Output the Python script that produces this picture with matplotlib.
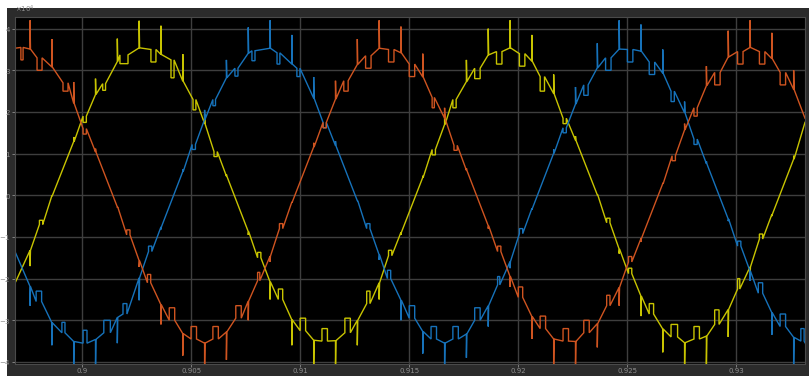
import matplotlib
matplotlib.use("Agg")
import matplotlib.pyplot as plt
import numpy as np
from matplotlib.patches import Rectangle
from matplotlib.ticker import ScalarFormatter

# ---- data (time in ms, phase voltage in units of 1e4) ----
# 1 kHz switching instants shared by the three phases
switch_t = [897.62, 898.62, 899.62, 900.62, 901.62, 902.62, 903.62, 904.62, 905.62,
            906.62, 907.62, 908.62, 909.62, 910.62, 911.62, 912.62, 913.62, 914.62,
            915.62, 916.62, 917.62, 918.62, 919.62, 920.62, 921.62, 922.62, 923.62,
            924.62, 925.62, 926.62, 927.62, 928.62, 929.62, 930.62, 931.62, 932.62]
t_first, t_last = 896.93, 933.14

# phase A (yellow)
yel_edge = (-2.11, 1.75)
yel_base = [-1.32, -0.01, 1.29, 2.42, 3.21, 3.54, 3.38, 2.74, 1.72, 0.46, -0.87, -2.08,
            -2.99, -3.48, -3.49, -3.00, -2.10, -0.89, 0.43, 1.70, 2.73, 3.37, 3.54, 3.22,
            2.44, 1.32, 0.01, -1.29, -2.42, -3.21, -3.54, -3.38, -2.74, -1.72, -0.46, 0.87]
yel_tip = [-1.70, -0.01, 1.40, 2.80, 3.76, 4.19, 4.07, 3.39, 1.95, 0.50, -0.95, -2.50,
           -3.60, -4.20, -4.20, -3.60, -2.50, -0.95, 0.47, 1.95, 3.25, 4.00, 4.20, 3.85,
           2.90, 1.42, 0.01, -1.40, -2.90, -3.77, -4.20, -4.10, -3.40, -1.95, -0.50, 0.95]
yel_notch = [(898.05, 898.20, -0.70, -0.60), (900.05, 900.20, 1.90, 1.75),
             (900.95, 901.08, 2.68, 2.52), (901.74, 902.11, 3.37, 3.16),
             (903.16, 903.39, 3.50, 3.20), (904.08, 904.22, 3.25, 2.82),
             (905.09, 905.22, 2.30, 2.05), (906.05, 906.20, 1.05, 0.93),
             (908.05, 908.20, -1.50, -1.37),
             (909.00, 909.20, -2.50, -2.25), (910.00, 910.25, -3.25, -2.95),
             (911.00, 911.25, -3.50, -3.20), (912.05, 912.30, -3.30, -2.95),
             (913.05, 913.20, -2.60, -2.30), (914.05, 914.20, -1.45, -1.32),
             (916.05, 916.20, 1.10, 0.97),
             (917.00, 917.15, 2.30, 2.10), (918.00, 918.25, 3.05, 2.80),
             (919.00, 919.25, 3.45, 3.15), (920.05, 920.30, 3.40, 3.10),
             (921.00, 921.20, 2.85, 2.50), (922.05, 922.20, 1.85, 1.72),
             (924.05, 924.20, -0.66, -0.55), (925.05, 925.20, -1.88, -1.75),
             (926.00, 926.20, -2.85, -2.60), (927.00, 927.30, -3.40, -3.10),
             (928.05, 928.30, -3.45, -3.15), (929.00, 929.20, -3.10, -2.75),
             (930.05, 930.15, -2.25, -2.00), (931.05, 931.20, -1.05, -0.93)]

# phase B (blue)
blu_edge = (-1.35, -3.54)
blu_base = [-2.19, -3.06, -3.51, -3.46, -2.93, -1.98, -0.76, 0.57, 1.82, 2.82, 3.41, 3.53,
            3.15, 2.33, 1.19, -0.13, -1.43, -2.52, -3.27, -3.55, -3.33, -2.65, -1.59, -0.32,
            1.01, 2.19, 3.06, 3.51, 3.46, 2.93, 1.98, 0.76, -0.57, -1.82, -2.82, -3.41]
blu_tip = [-2.65, -3.60, -4.20, -4.20, -3.55, -2.52, -0.82, 0.62, 2.05, 3.25, 4.03, 4.20,
           3.85, 2.84, 1.30, -0.14, -1.55, -3.00, -3.80, -4.20, -3.90, -3.15, -1.75, -0.35,
           1.10, 2.60, 3.65, 4.20, 4.10, 3.50, 2.25, 0.82, -0.62, -2.05, -3.35, -4.05]
blu_notch = [(897.90, 898.15, -2.55, -2.30), (899.08, 899.22, -3.30, -3.05),
             (900.05, 900.23, -3.55, -3.24), (901.00, 901.30, -3.30, -3.00),
             (901.88, 902.06, -2.85, -2.60), (903.05, 903.20, -1.35, -1.22),
             (905.05, 905.20, 1.22, 1.10), (906.00, 906.12, 2.30, 2.15),
             (907.01, 907.15, 3.05, 2.86), (907.79, 907.93, 3.47, 3.23),
             (908.94, 909.07, 3.42, 3.15), (909.85, 909.99, 3.05, 2.85),
             (911.05, 911.20, 1.75, 1.62), (913.05, 913.20, -0.80, -0.68),
             (914.00, 914.15, -2.00, -1.80), (915.00, 915.25, -2.95, -2.65),
             (916.00, 916.25, -3.45, -3.15), (917.00, 917.25, -3.45, -3.15),
             (918.00, 918.25, -3.00, -2.70), (919.05, 919.15, -2.15, -1.95),
             (920.05, 920.20, -0.92, -0.80), (922.05, 922.20, 1.62, 1.50),
             (923.00, 923.20, 2.65, 2.40), (924.00, 924.25, 3.30, 3.00),
             (925.00, 925.25, 3.50, 3.20), (926.00, 926.25, 3.20, 2.90),
             (927.00, 927.15, 2.50, 2.25), (928.05, 928.20, 1.35, 1.22),
             (930.05, 930.20, -1.22, -1.10),
             (931.00, 931.20, -2.35, -2.10), (932.00, 932.25, -3.15, -2.85),
             (932.95, 933.10, -3.50, -3.20)]

# phase C (orange)
red_edge = (3.53, 1.85)
red_base = [3.51, 3.08, 2.21, 1.04, -0.28, -1.57, -2.63, -3.32, -3.55, -3.28, -2.54, -1.46,
            -0.16, 1.16, 2.31, 3.14, 3.53, 3.42, 2.84, 1.85, 0.60, -0.73, -1.95, -2.91,
            -3.45, -3.51, -3.08, -2.21, -1.04, 0.28, 1.57, 2.63, 3.32, 3.55, 3.28, 2.54]
red_tip = [4.20, 3.75, 2.72, 1.12, -0.30, -1.72, -3.10, -3.85, -4.20, -3.95, -3.00, -1.60,
           -0.17, 1.26, 2.75, 3.75, 4.20, 4.05, 3.40, 2.10, 0.65, -0.80, -2.20, -3.45,
           -4.10, -4.20, -3.65, -2.65, -1.12, 0.30, 1.72, 3.10, 3.95, 4.20, 3.90, 3.00]
red_notch = [(897.20, 897.30, 3.55, 3.25), (897.94, 898.17, 3.30, 3.00),
             (899.13, 899.36, 2.70, 2.50), (900.05, 900.20, 1.60, 1.47),
             (902.05, 902.20, -0.95, -0.83),
             (903.00, 903.15, -2.10, -1.90), (904.00, 904.25, -3.00, -2.70),
             (905.00, 905.25, -3.45, -3.15), (906.00, 906.25, -3.45, -3.15),
             (907.05, 907.30, -2.95, -2.65), (908.05, 908.15, -2.05, -1.85),
             (909.05, 909.20, -0.80, -0.68), (911.05, 911.20, 1.75, 1.62),
             (912.00, 912.20, 2.75, 2.50), (913.00, 913.25, 3.35, 3.05),
             (914.05, 914.30, 3.50, 3.20), (915.00, 915.25, 3.15, 2.85),
             (916.05, 916.15, 2.35, 2.10), (917.05, 917.20, 1.20, 1.08),
             (919.05, 919.20, -1.35, -1.22),
             (920.00, 920.20, -2.45, -2.20), (921.00, 921.25, -3.20, -2.90),
             (922.05, 922.30, -3.50, -3.20), (923.00, 923.25, -3.30, -3.00),
             (924.05, 924.20, -2.65, -2.40), (925.05, 925.20, -1.60, -1.47),
             (927.05, 927.20, 0.95, 0.83),
             (928.05, 928.20, 2.10, 1.90), (929.00, 929.25, 2.95, 2.65),
             (930.05, 930.30, 3.45, 3.15), (931.05, 931.30, 3.45, 3.15),
             (932.00, 932.25, 2.95, 2.65)]

x_ticks = [0.9, 0.905, 0.91, 0.915, 0.92, 0.925, 0.93]
x_tick_labels = ["0.9", "0.905", "0.91", "0.915", "0.92", "0.925", "0.93"]
y_ticks = [-4, -3, -2, -1, 0, 1, 2, 3, 4]


def trace(edge, base, tip, notches):
    """Assemble the polyline: switching spikes at each instant plus PWM notches."""
    events = [(t_first, [(t_first, edge[0])])]
    for tk, b, s in zip(switch_t, base, tip):
        events.append((tk, [(tk, b), (tk, s), (tk + 0.02, b)]))
    for ts, te, outer, inner in notches:
        events.append((ts, [(ts, outer), (ts, inner), (te, inner), (te, outer)]))
    events.append((t_last, [(t_last, edge[1])]))
    events.sort(key=lambda e: e[0])
    pts = [p for _, grp in events for p in grp]
    t = np.array([p[0] for p in pts]) / 1000.0
    v = np.array([p[1] for p in pts]) * 1e4
    return t, v


W, H = 809, 376
fig = plt.figure(figsize=(W / 100, H / 100), dpi=100, facecolor="white")
fig.patches.append(Rectangle((7 / W, 0), 1, 1 - 8 / H, transform=fig.transFigure,
                             facecolor="#2b2b2b", edgecolor="none", zorder=-10))

ax = fig.add_axes([15 / W, 12 / H, 790 / W, 347 / H])
ax.set_facecolor("black")

for edge, base, tip, notch, c in [(yel_edge, yel_base, yel_tip, yel_notch, "#c8c400"),
                                  (blu_edge, blu_base, blu_tip, blu_notch, "#1672ba"),
                                  (red_edge, red_base, red_tip, red_notch, "#cf5420")]:
    t, v = trace(edge, base, tip, notch)
    ax.plot(t, v, color=c, lw=1.0, solid_joinstyle="miter")

ax.set_xlim(0.89693, 0.93314)
ax.set_ylim(-4.05e4, 4.28e4)
ax.set_xticks(x_ticks)
ax.set_xticklabels(x_tick_labels)
ax.set_yticks(np.array(y_ticks) * 1e4)
fmt = ScalarFormatter(useMathText=True)
fmt.set_powerlimits((0, 0))
ax.yaxis.set_major_formatter(fmt)
ax.yaxis.get_offset_text().set_fontsize(5)
ax.yaxis.get_offset_text().set_color("#8f8f8f")

ax.grid(True, color="#3e3e3e", lw=1.0)
ax.set_axisbelow(True)
ax.tick_params(colors="#8f8f8f", labelsize=5, length=2, width=0.6, pad=1.2)
for s in ax.spines.values():
    s.set_color("#4a4a4a")
    s.set_linewidth(0.8)

fig.savefig("out.png", dpi=100, facecolor=fig.get_facecolor())
